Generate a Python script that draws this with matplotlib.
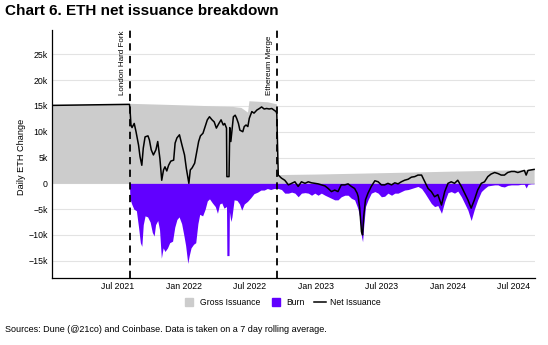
import pandas as pd
import matplotlib
matplotlib.use("Agg")
import matplotlib.pyplot as plt
import matplotlib.dates as mdates
from matplotlib.lines import Line2D
from matplotlib.ticker import FuncFormatter

# --- data (thousand ETH / day, 7 day rolling average) ---
gross_dates = ["2021-01-01", "2021-08-04", "2021-08-05", "2021-11-15", "2022-02-15",
               "2022-05-15", "2022-06-08", "2022-06-26", "2022-06-30", "2022-08-20",
               "2022-09-14", "2022-09-15", "2023-01-01", "2023-04-15", "2023-10-01",
               "2024-01-01", "2024-04-15", "2024-08-26"]
gross_vals = [15.2, 15.3, 15.5, 15.3, 15.1,
              14.9, 14.7, 13.8, 16.0, 15.8,
              15.4, 1.7, 1.8, 1.95, 2.2,
              2.35, 2.5, 2.7]

burn_dates = ["2021-08-04", "2021-08-05", "2021-08-10", "2021-08-16", "2021-08-23", "2021-08-29",
              "2021-09-03", "2021-09-07", "2021-09-11", "2021-09-16", "2021-09-23", "2021-09-30",
              "2021-10-06", "2021-10-11", "2021-10-15", "2021-10-21", "2021-10-26", "2021-10-31",
              "2021-11-05", "2021-11-10", "2021-11-17", "2021-11-23", "2021-12-01", "2021-12-07",
              "2021-12-13", "2021-12-19", "2021-12-26", "2022-01-01", "2022-01-06", "2022-01-12",
              "2022-01-16", "2022-01-21", "2022-01-28", "2022-02-03", "2022-02-09", "2022-02-14",
              "2022-02-22", "2022-03-01", "2022-03-07", "2022-03-13", "2022-03-21", "2022-03-29",
              "2022-04-04", "2022-04-10", "2022-04-16", "2022-04-22", "2022-04-29", "2022-04-30",
              "2022-05-06", "2022-05-07", "2022-05-11", "2022-05-14", "2022-05-20", "2022-05-28",
              "2022-06-04", "2022-06-10", "2022-06-17", "2022-06-26", "2022-07-05", "2022-07-14",
              "2022-07-24", "2022-08-02", "2022-08-11", "2022-08-20", "2022-08-29", "2022-09-07",
              "2022-09-15", "2022-09-19", "2022-09-28", "2022-10-07", "2022-10-17", "2022-10-26",
              "2022-11-04", "2022-11-13", "2022-11-22", "2022-12-02", "2022-12-11", "2022-12-20",
              "2022-12-29", "2023-01-07", "2023-01-16", "2023-01-26", "2023-02-04", "2023-02-13",
              "2023-02-22", "2023-03-03", "2023-03-12", "2023-03-22", "2023-03-31", "2023-04-09",
              "2023-04-18", "2023-04-25", "2023-04-28", "2023-05-02", "2023-05-07", "2023-05-10",
              "2023-05-13", "2023-05-18", "2023-05-25", "2023-06-03", "2023-06-13", "2023-06-22",
              "2023-07-01", "2023-07-10", "2023-07-19", "2023-07-29", "2023-08-07", "2023-08-16",
              "2023-08-25", "2023-09-03", "2023-09-13", "2023-09-22", "2023-10-01", "2023-10-10",
              "2023-10-20", "2023-10-29", "2023-11-07", "2023-11-16", "2023-11-25", "2023-12-04",
              "2023-12-14", "2023-12-23", "2024-01-01", "2024-01-10", "2024-01-19", "2024-01-28",
              "2024-02-07", "2024-02-16", "2024-02-25", "2024-03-05", "2024-03-14", "2024-03-23",
              "2024-04-02", "2024-04-11", "2024-04-20", "2024-04-29", "2024-05-09", "2024-05-18",
              "2024-05-27", "2024-06-05", "2024-06-14", "2024-06-24", "2024-07-03", "2024-07-12",
              "2024-07-21", "2024-07-30", "2024-08-04", "2024-08-09", "2024-08-18", "2024-08-26"]
burn_vals = [0.0, -2.9, -4.0, -5.0, -5.3, -8.5,
             -11.5, -12.2, -8.0, -6.3, -6.5, -7.5,
             -9.5, -10.2, -8.0, -7.2, -9.0, -14.5,
             -12.5, -13.2, -12.5, -11.5, -11.2, -8.5,
             -7.0, -6.5, -7.8, -10.0, -12.0, -15.5,
             -14.0, -12.5, -11.8, -11.5, -7.8, -6.0,
             -6.3, -5.0, -3.4, -3.0, -3.8, -4.5,
             -5.8, -4.0, -3.8, -4.8, -4.5, -14.0,
             -14.0, -5.5, -7.4, -6.5, -3.2, -3.3,
             -4.0, -5.2, -4.0, -3.5, -2.8, -2.0,
             -1.7, -1.3, -1.3, -1.0, -1.2, -1.0,
             -1.0, -1.0, -1.2, -1.9, -1.9, -1.7,
             -1.9, -2.6, -1.9, -1.8, -1.9, -2.3,
             -1.9, -2.3, -1.9, -2.3, -2.6, -2.9,
             -3.2, -3.2, -2.6, -2.3, -2.3, -2.9,
             -3.2, -4.5, -5.2, -6.5, -10.3, -11.3,
             -8.4, -4.5, -3.2, -1.9, -1.6, -1.9,
             -2.6, -2.5, -1.9, -2.3, -1.9, -1.9,
             -1.6, -1.3, -1.2, -1.0, -0.8, -0.6,
             -1.0, -1.9, -2.9, -3.9, -4.5, -4.3,
             -5.8, -3.5, -1.8, -1.6, -1.9, -1.5,
             -2.6, -3.9, -5.2, -7.2, -5.0, -3.2,
             -1.6, -1.0, -0.5, -0.4, -0.3, -0.3,
             -0.6, -0.7, -0.4, -0.3, -0.3, -0.3,
             -0.2, -0.2, -0.9, -0.2, -0.1, -0.1]

net_dates = ["2021-01-01", "2021-08-04", "2021-08-06", "2021-08-08", "2021-08-11", "2021-08-17",
             "2021-08-22", "2021-08-29", "2021-09-02", "2021-09-07", "2021-09-11", "2021-09-16",
             "2021-09-24", "2021-09-28", "2021-10-03", "2021-10-09", "2021-10-16", "2021-10-21",
             "2021-10-27", "2021-11-01", "2021-11-06", "2021-11-10", "2021-11-15", "2021-11-20",
             "2021-11-26", "2021-12-04", "2021-12-08", "2021-12-13", "2021-12-20", "2021-12-27",
             "2022-01-03", "2022-01-08", "2022-01-15", "2022-01-19", "2022-01-24", "2022-01-31",
             "2022-02-05", "2022-02-11", "2022-02-16", "2022-02-23", "2022-03-01", "2022-03-07",
             "2022-03-13", "2022-03-20", "2022-03-26", "2022-04-01", "2022-04-08", "2022-04-14",
             "2022-04-20", "2022-04-24", "2022-04-29", "2022-04-30", "2022-05-06", "2022-05-08",
             "2022-05-11", "2022-05-18", "2022-05-23", "2022-05-27", "2022-06-01", "2022-06-05",
             "2022-06-13", "2022-06-17", "2022-06-22", "2022-06-27", "2022-07-01", "2022-07-08",
             "2022-07-14", "2022-07-22", "2022-07-29", "2022-08-04", "2022-08-11", "2022-08-18",
             "2022-08-25", "2022-09-01", "2022-09-07", "2022-09-13", "2022-09-15", "2022-09-19",
             "2022-09-28", "2022-10-07", "2022-10-17", "2022-10-26", "2022-11-04", "2022-11-13",
             "2022-11-22", "2022-12-02", "2022-12-11", "2022-12-20", "2022-12-29", "2023-01-07",
             "2023-01-16", "2023-01-26", "2023-02-04", "2023-02-13", "2023-02-22", "2023-03-03",
             "2023-03-12", "2023-03-22", "2023-03-31", "2023-04-09", "2023-04-18", "2023-04-25",
             "2023-04-28", "2023-05-02", "2023-05-07", "2023-05-10", "2023-05-13", "2023-05-18",
             "2023-05-25", "2023-06-03", "2023-06-13", "2023-06-22", "2023-07-01", "2023-07-10",
             "2023-07-19", "2023-07-29", "2023-08-07", "2023-08-16", "2023-08-25", "2023-09-03",
             "2023-09-13", "2023-09-22", "2023-10-01", "2023-10-10", "2023-10-20", "2023-10-29",
             "2023-11-07", "2023-11-16", "2023-11-25", "2023-12-04", "2023-12-14", "2023-12-23",
             "2024-01-01", "2024-01-10", "2024-01-19", "2024-01-28", "2024-02-07", "2024-02-16",
             "2024-02-25", "2024-03-05", "2024-03-14", "2024-03-23", "2024-04-02", "2024-04-11",
             "2024-04-20", "2024-04-29", "2024-05-09", "2024-05-18", "2024-05-27", "2024-06-05",
             "2024-06-14", "2024-06-24", "2024-07-03", "2024-07-12", "2024-07-21", "2024-07-30",
             "2024-08-04", "2024-08-09", "2024-08-18", "2024-08-26"]
net_vals = [15.1, 15.3, 13.6, 11.3, 10.8, 11.6,
            10.0, 7.4, 5.2, 3.5, 6.8, 9.0,
            9.2, 8.4, 6.5, 5.5, 6.5, 8.1,
            4.8, 0.6, 2.6, 3.2, 2.4, 3.5,
            4.3, 4.5, 7.8, 8.8, 9.4, 7.4,
            5.5, 2.9, 0.0, 2.6, 3.0, 3.9,
            5.8, 8.1, 9.2, 9.7, 11.0, 12.3,
            12.9, 12.3, 11.9, 10.7, 11.6, 12.3,
            11.3, 11.6, 10.7, 1.3, 1.3, 10.8,
            8.1, 12.9, 13.2, 12.6, 11.6, 10.3,
            10.0, 11.0, 11.3, 11.0, 12.6, 13.9,
            13.6, 14.2, 14.5, 14.8, 14.4, 14.5,
            14.4, 14.5, 14.2, 13.9, 13.5, 1.6,
            1.0, 0.6, -0.3, 0.0, 0.3, -0.6,
            0.3, 0.0, 0.3, 0.1, 0.0, -0.1,
            -0.3, -0.5, -1.0, -1.6, -1.3, -1.6,
            -0.3, -0.3, -0.1, -0.6, -1.0, -1.9,
            -2.6, -4.8, -9.4, -10.0, -6.5, -3.2,
            -1.9, -0.6, 0.5, 0.3, -0.3, -0.3,
            0.0, -0.3, 0.1, -0.1, 0.3, 0.6,
            0.8, 1.2, 1.3, 1.6, 1.6, 0.3,
            -1.0, -1.6, -2.6, -2.2, -4.2, -1.6,
            0.0, 0.3, 0.0, 0.6, -0.6, -1.9,
            -3.2, -4.8, -3.2, -1.3, 0.0, 0.3,
            1.3, 1.8, 2.1, 1.9, 1.6, 1.6,
            2.1, 2.3, 2.3, 2.1, 2.3, 2.5,
            1.6, 2.5, 2.6, 2.7]

events = ["2021-08-05", "2022-09-15"]
event_labels = ["London Hard Fork", "Ethereum Merge"]

yticks = [-15, -10, -5, 0, 5, 10, 15, 20, 25]
xticks = ["2021-07-01", "2022-01-01", "2022-07-01", "2023-01-01", "2023-07-01",
          "2024-01-01", "2024-07-01"]

plt.rcParams["font.family"] = ["Liberation Sans", "DejaVu Sans"]

GREY = "#cccccc"
PURPLE = "#6100ff"

fig = plt.figure(figsize=(5.48, 3.45), dpi=100)
ax = fig.add_axes([0.095, 0.194, 0.881, 0.719])

gd = pd.to_datetime(gross_dates)
bd = pd.to_datetime(burn_dates)
nd = pd.to_datetime(net_dates)

ax.fill_between(gd, 0, [v * 1000 for v in gross_vals], color=GREY, lw=0, zorder=2)
ax.fill_between(bd, 0, [v * 1000 for v in burn_vals], color=PURPLE, lw=0, zorder=2)
ax.plot(nd, [v * 1000 for v in net_vals], color="black", lw=1.1, zorder=4)

for d, lab in zip(events, event_labels):
    dt = pd.Timestamp(d)
    ax.axvline(dt, color="black", lw=1.3, ls=(0, (4, 3)), zorder=5)
    ax.annotate(lab, xy=(dt, 17100), xytext=(-2.5, 0), textcoords="offset points",
                rotation=90, ha="right", va="bottom", fontsize=5.8)

ax.set_xlim(pd.Timestamp("2021-01-02"), pd.Timestamp("2024-08-28"))
ax.set_ylim(-18350, 29700)

ax.set_yticks([t * 1000 for t in yticks])
ax.yaxis.set_major_formatter(FuncFormatter(
    lambda v, p: "0" if v == 0 else f"{int(v / 1000)}k".replace("-", "\u2212")))
ax.set_xticks(pd.to_datetime(xticks))
ax.xaxis.set_major_formatter(mdates.DateFormatter("%b %Y"))
ax.tick_params(length=0, labelsize=6.3, pad=3)

ax.grid(axis="y", color="#e3e3e3", lw=0.8, zorder=0)
ax.set_axisbelow(True)
for s in ["top", "right"]:
    ax.spines[s].set_visible(False)
for s in ["left", "bottom"]:
    ax.spines[s].set_color("black")
    ax.spines[s].set_linewidth(0.9)

fig.text(0.040, 0.545, "Daily ETH Change", rotation=90, ha="center", va="center",
         fontsize=6.6)

handles = [Line2D([], [], marker="s", ls="none", color=GREY, markersize=6),
           Line2D([], [], marker="s", ls="none", color=PURPLE, markersize=6),
           Line2D([], [], color="black", lw=1.1)]
leg = fig.legend(handles, ["Gross Issuance", "Burn", "Net Issuance"], loc="center",
                 bbox_to_anchor=(0.515, 0.122), ncol=3, frameon=False,
                 prop={"size": 6.2}, handlelength=1.4,
                 handletextpad=0.5, columnspacing=1.1)

fig.text(0.009, 0.988, "Chart 6. ETH net issuance breakdown", ha="left", va="top",
         fontsize=11, weight="bold")
fig.text(0.009, 0.045, "Sources: Dune (@21co) and Coinbase. Data is taken on a 7 day rolling average.",
         ha="left", va="center", fontsize=6.5)

fig.savefig("out.png", dpi=100)
